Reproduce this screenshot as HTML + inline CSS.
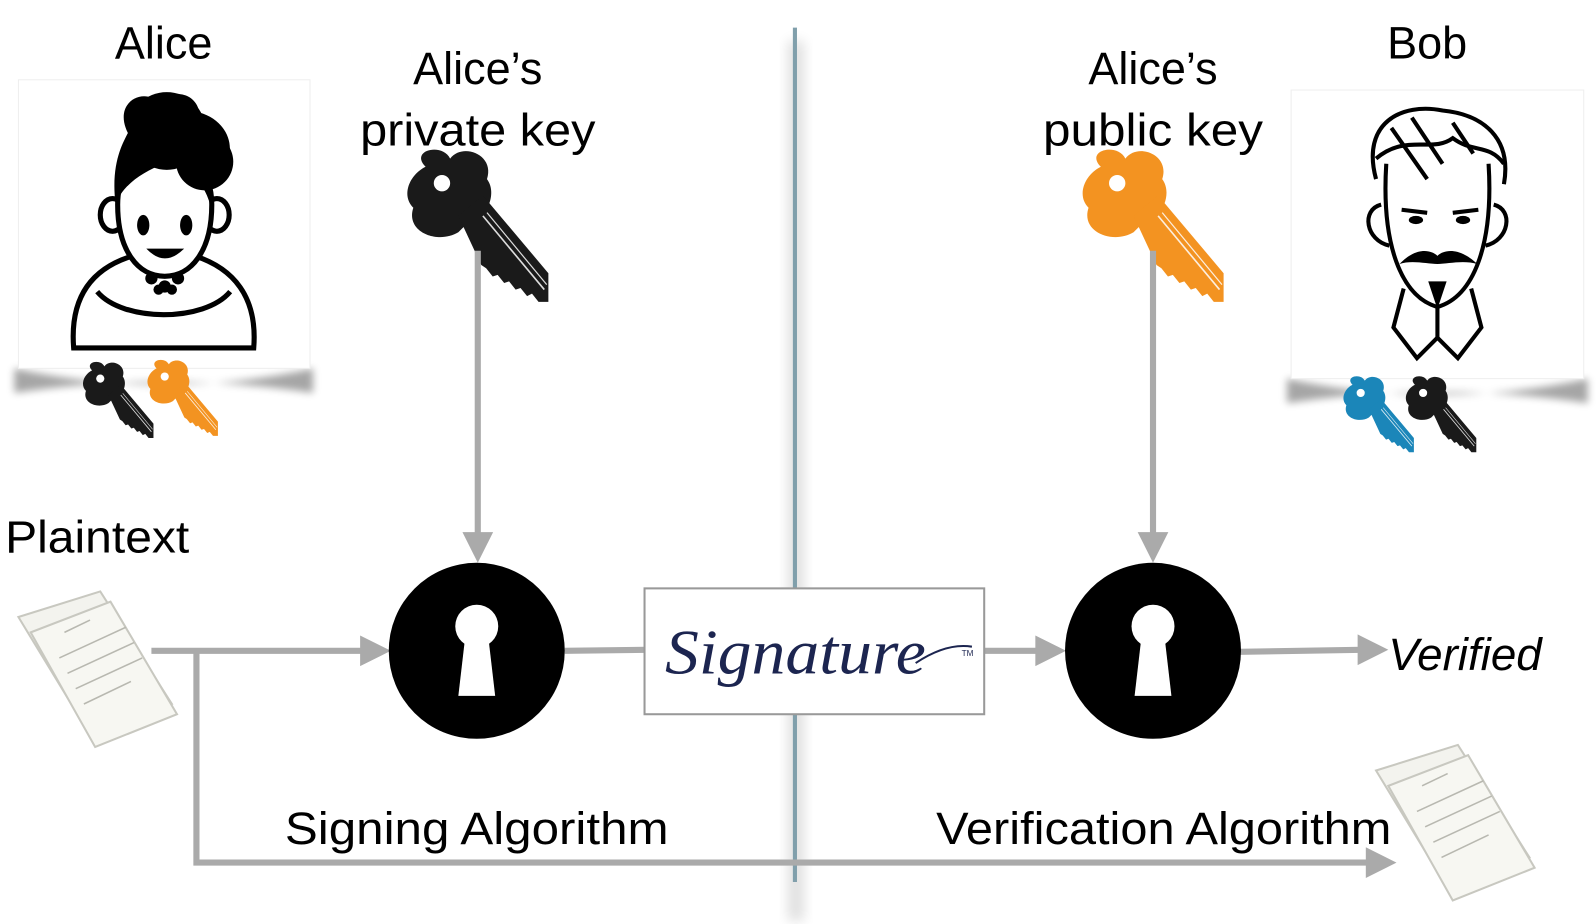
<!DOCTYPE html>
<html><head><meta charset="utf-8"><style>
html,body{margin:0;padding:0;background:#fff;}
svg{display:block;}
text{font-family:"Liberation Sans",sans-serif;fill:#000;}
</style></head><body>
<svg width="1596" height="924" viewBox="0 0 1560 903" preserveAspectRatio="none" xmlns="http://www.w3.org/2000/svg">
<defs>
<filter id="blur" x="-50%" y="-50%" width="200%" height="200%"><feGaussianBlur stdDeviation="6"/></filter>
<filter id="blur2" x="-50%" y="-50%" width="200%" height="200%"><feGaussianBlur stdDeviation="4"/></filter>
<g id="key">
  <path d="M-30,-40 C-50,-60 -10,-70 0,-50 C15,-70 55,-55 45,-25 C60,-5 40,30 20,30 L10,40 C-15,55 -55,40 -45,10 C-60,-5 -50,-30 -30,-40 Z"/>
  <path d="M10,20 L40,-5 L120,90 L120,125 L108,125 L100,115 L94,118 L86,108 L80,110 L72,100 L66,102 L58,92 L52,94 L44,84 L38,80 Z"/>
  <line x1="40" y1="20" x2="115" y2="110" stroke="#fff" stroke-width="2" opacity="0.85"/>
  <line x1="45" y1="16" x2="118" y2="104" stroke="#fff" stroke-width="1.5" opacity="0.85"/>
  <circle cx="-10" cy="-20" r="10" fill="#fff"/>
</g>
<g id="doc">
  <path d="M0,25 L80,0 L150,110 L70,140 Z" fill="#f3f3ee" stroke="#c8c8c0" stroke-width="2"/>
  <path d="M12,40 L90,10 L155,120 L75,152 Z" fill="#f7f7f2" stroke="#c8c8c0" stroke-width="2"/>
  <g stroke="#b8b8b0" stroke-width="1.5">
    <line x1="45" y1="40" x2="70" y2="28"/>
    <line x1="40" y1="65" x2="105" y2="35"/>
    <line x1="48" y1="80" x2="113" y2="50"/>
    <line x1="56" y1="95" x2="121" y2="65"/>
    <line x1="64" y1="110" x2="110" y2="88"/>
  </g>
</g>
<g id="lock">
  <circle cx="0" cy="0" r="86" fill="#000"/>
  <circle cx="0" cy="-24" r="21" fill="#fff"/>
  <path d="M-11,-16 L11,-16 L18,44 L-18,44 Z" fill="#fff"/>
</g>
</defs>

<rect x="770" y="40" width="16" height="860" fill="#000" opacity="0.12" filter="url(#blur)"/>
<line x1="777" y1="27" x2="777" y2="862" stroke="#809fab" stroke-width="4"/>

<!-- Alice -->
<text x="160" y="57" font-size="44" text-anchor="middle">Alice</text>
<path d="M14,360 Q160,392 306,360 L306,384 Q160,362 14,384 Z" fill="#000" opacity="0.35" filter="url(#blur2)"/>
<rect x="18" y="78" width="285" height="282" fill="#fff" stroke="#eee" stroke-width="1"/>
<g stroke="#000" stroke-width="5" fill="#fff">
  <path d="M72,340 C68,290 90,262 130,250 L190,250 C228,262 252,290 248,340 Z"/>
  <path d="M95,285 C120,315 200,315 225,285" fill="none"/>
  <ellipse cx="110" cy="210" rx="12" ry="16"/>
  <ellipse cx="212" cy="210" rx="12" ry="16"/>
  <path d="M115,200 C115,245 135,270 161,270 C187,270 207,245 207,200 C207,165 185,150 161,150 C137,150 115,165 115,200 Z"/>
</g>
<path d="M113,200 C108,160 120,140 125,130 C110,100 140,85 155,100 C160,90 190,85 195,110 C230,120 235,160 205,175 C208,185 210,195 208,210 C200,170 180,165 160,160 C140,168 120,180 113,200 Z" fill="#000"/>
<circle cx="163" cy="128" r="38" fill="#000"/>
<circle cx="200" cy="158" r="28" fill="#000"/>
<ellipse cx="140" cy="220" rx="6" ry="10" fill="#000"/>
<ellipse cx="182" cy="220" rx="6" ry="10" fill="#000"/>
<path d="M143,243 Q161,262 180,243 Z" fill="#000"/>
<g fill="#000"><circle cx="148" cy="272" r="6"/><circle cx="161" cy="280" r="6"/><circle cx="174" cy="272" r="6"/><circle cx="155" cy="283" r="5"/><circle cx="168" cy="283" r="5"/></g>
<use href="#key" transform="translate(102,378) scale(0.4)" fill="#1a1a1a"/>
<use href="#key" transform="translate(165,376) scale(0.4)" fill="#f39321"/>

<!-- Alice's private key -->
<text x="467" y="82" font-size="44" text-anchor="middle">Alice’s</text>
<text x="467" y="142" font-size="44" text-anchor="middle" textLength="230" lengthAdjust="spacingAndGlyphs">private key</text>
<use href="#key" transform="translate(440,195) scale(0.8)" fill="#1a1a1a"/>
<line x1="467" y1="245" x2="467" y2="522" stroke="#aaa" stroke-width="6"/>
<path d="M452,520 L482,520 L467,550 Z" fill="#aaa"/>

<!-- Plaintext -->
<text x="5" y="540" font-size="44" textLength="180" lengthAdjust="spacingAndGlyphs">Plaintext</text>
<use href="#doc" transform="translate(18,578)"/>
<g stroke="#aaa" stroke-width="6" fill="none">
  <line x1="148" y1="636" x2="355" y2="636"/>
  <polyline points="192,636 192,843 1340,843"/>
  <line x1="552" y1="636" x2="632" y2="635"/>
  <line x1="962" y1="636" x2="1015" y2="636"/>
  <line x1="1212" y1="637" x2="1330" y2="635"/>
</g>
<path d="M352,621 L382,636 L352,651 Z" fill="#aaa"/>
<path d="M1335,828 L1365,843 L1335,858 Z" fill="#aaa"/>
<path d="M1012,621 L1042,636 L1012,651 Z" fill="#aaa"/>
<path d="M1327,620 L1357,635 L1327,650 Z" fill="#aaa"/>

<use href="#lock" transform="translate(466,636)"/>
<use href="#lock" transform="translate(1127,636)"/>

<!-- Signature box -->
<rect x="630" y="575" width="332" height="123" fill="#fff" stroke="#999" stroke-width="2"/>
<text x="650" y="658" font-size="62" font-style="italic" textLength="255" lengthAdjust="spacingAndGlyphs" style="font-family:'Liberation Serif',serif;fill:#1c2550">Signature</text>
<path d="M895,648 Q925,628 950,632" stroke="#1c2550" stroke-width="2" fill="none"/>
<text x="940" y="641" font-size="8" style="fill:#1c2550">TM</text>

<text x="1357" y="655" font-size="44" font-style="italic" textLength="150" lengthAdjust="spacingAndGlyphs">Verified</text>

<!-- Alice's public key -->
<text x="1127" y="82" font-size="44" text-anchor="middle">Alice’s</text>
<text x="1127" y="142" font-size="44" text-anchor="middle" textLength="215" lengthAdjust="spacingAndGlyphs">public key</text>
<use href="#key" transform="translate(1100,195) scale(0.8)" fill="#f39321"/>
<line x1="1127" y1="245" x2="1127" y2="522" stroke="#aaa" stroke-width="6"/>
<path d="M1112,520 L1142,520 L1127,550 Z" fill="#aaa"/>

<!-- Bob -->
<text x="1395" y="57" font-size="44" text-anchor="middle">Bob</text>
<path d="M1258,370 Q1405,402 1552,370 L1552,394 Q1405,372 1258,394 Z" fill="#000" opacity="0.35" filter="url(#blur2)"/>
<rect x="1262" y="88" width="286" height="282" fill="#fff" stroke="#eee" stroke-width="1"/>
<g stroke="#000" stroke-width="4" fill="none">
  <path d="M1355,160 C1350,240 1370,290 1405,300 C1440,290 1460,240 1455,160"/>
  <path d="M1350,200 C1330,205 1335,235 1358,240"/>
  <path d="M1460,200 C1480,205 1475,235 1452,240"/>
  <path d="M1372,282 L1362,320 L1385,350 L1405,330 L1425,350 L1448,320 L1438,282"/>
  <path d="M1405,330 L1405,300"/>
  <path d="M1345,175 C1330,120 1370,100 1410,108 C1450,112 1478,135 1470,180"/>
  <path d="M1345,155 C1375,130 1400,150 1420,135 C1440,150 1455,140 1470,160"/>
  <path d="M1360,125 L1395,175 M1380,115 L1410,160 M1420,120 L1440,150"/>
  <path d="M1370,205 L1395,208 M1420,208 L1445,205"/>
</g>
<g fill="#000">
  <ellipse cx="1384" cy="215" rx="7" ry="4"/>
  <ellipse cx="1430" cy="215" rx="7" ry="4"/>
  <path d="M1368,258 C1385,240 1400,245 1405,250 C1410,245 1425,240 1444,258 C1430,254 1415,258 1405,258 C1395,258 1380,254 1368,258 Z"/>
  <path d="M1396,275 L1414,275 L1405,302 Z"/>
</g>
<use href="#key" transform="translate(1334,392) scale(0.4)" fill="#1b86b9"/>
<use href="#key" transform="translate(1395,392) scale(0.4)" fill="#1a1a1a"/>

<!-- bottom labels -->
<text x="466" y="825" font-size="44" text-anchor="middle" textLength="375" lengthAdjust="spacingAndGlyphs">Signing Algorithm</text>
<text x="915" y="825" font-size="44" textLength="445" lengthAdjust="spacingAndGlyphs">Verification Algorithm</text>
<use href="#doc" transform="translate(1345,728)"/>
</svg>
</body></html>
